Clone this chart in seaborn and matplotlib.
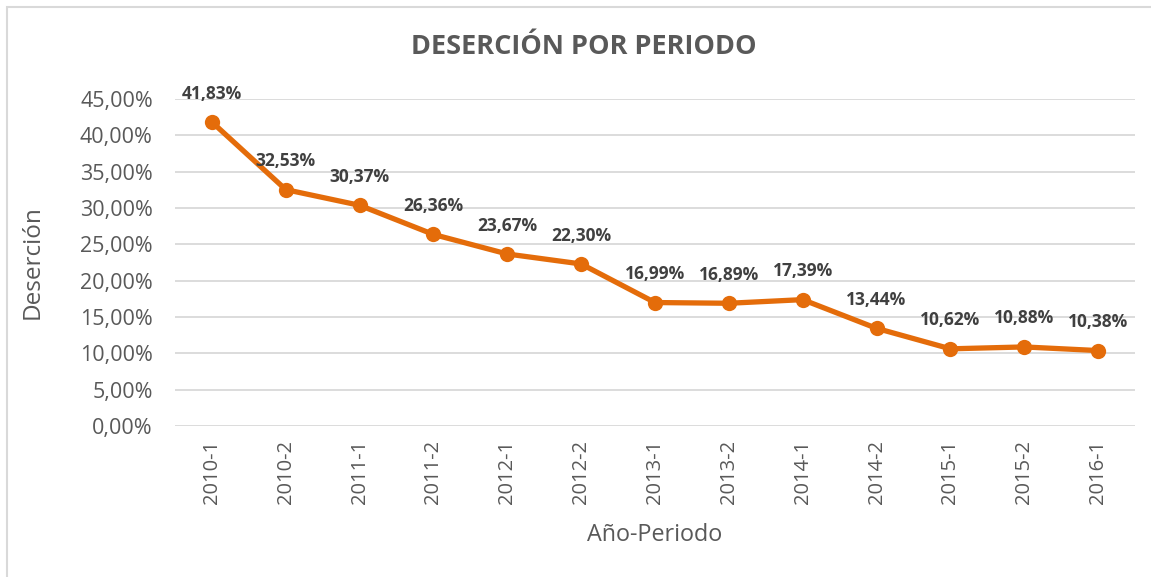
import matplotlib
matplotlib.use("Agg")
import matplotlib.pyplot as plt
import matplotlib.patches as mpatches
import seaborn as sns
import pandas as pd

periods = ["2010-1", "2010-2", "2011-1", "2011-2", "2012-1", "2012-2", "2013-1",
           "2013-2", "2014-1", "2014-2", "2015-1", "2015-2", "2016-1"]
desercion = [41.83, 32.53, 30.37, 26.36, 23.67, 22.30, 16.99,
             16.89, 17.39, 13.44, 10.62, 10.88, 10.38]
y_ticks = [0, 5, 10, 15, 20, 25, 30, 35, 40, 45]

df = pd.DataFrame({"Periodo": periods, "Desercion": desercion})

sns.set_theme(style="white")
FONT = ["Open Sans", "DejaVu Sans"]
plt.rcParams["font.family"] = FONT

W, H = 1151, 577
fig = plt.figure(figsize=(W / 100, H / 100), dpi=100)
ax = fig.add_axes([175 / W, 1 - 426 / H, (1135 - 175) / W, (426 - 99) / H])

orange = "#E46C0A"
sns.lineplot(data=df, x="Periodo", y="Desercion", ax=ax, color=orange,
             linewidth=3.8, marker="o", markersize=11, markeredgewidth=0,
             sort=False)

for i, v in enumerate(desercion):
    ax.annotate(f"{v:.2f}%".replace(".", ","), (i, v), xytext=(0, 14),
                textcoords="offset points", ha="center", va="bottom",
                fontsize=12.5, fontweight="bold", color="#404040")

ax.set_xlim(-0.5, len(periods) - 0.5)
ax.set_ylim(0, 45)
ax.set_yticks(y_ticks)
ax.set_yticklabels([f"{t:.2f}%".replace(".", ",") for t in y_ticks],
                   fontsize=15.5, color="#595959")
ax.tick_params(axis="x", labelrotation=90, labelsize=14.5, colors="#595959",
               length=0, pad=10)
ax.tick_params(axis="y", length=0, pad=16)
ax.grid(axis="y", color="#D9D9D9", linewidth=1.3)
ax.grid(axis="x", visible=False)
ax.set_axisbelow(True)
for s in ax.spines.values():
    s.set_visible(False)

ax.set_xlabel("Año-Periodo", fontsize=16.8, color="#595959")
ax.set_ylabel("Deserción", fontsize=17.5, color="#595959")
ax.xaxis.set_label_coords((655 - 175) / 960, (426 - 535) / 327)
ax.yaxis.set_label_coords((33 - 175) / 960, (426 - 262) / 327)
ax.xaxis.label.set_va("center")
ax.yaxis.label.set_va("center")
fig.text(584 / W, 1 - 47 / H, "DESERCIÓN POR PERIODO", ha="center",
         va="center", fontsize=19.5, fontweight="bold", color="#595959")

border = mpatches.Rectangle((7 / W, -0.1), 1.2, 1 - 7 / H + 0.1,
                            transform=fig.transFigure, fill=False,
                            edgecolor="#D9D9D9", linewidth=1.5)
fig.add_artist(border)

fig.savefig("out.png", dpi=100)
